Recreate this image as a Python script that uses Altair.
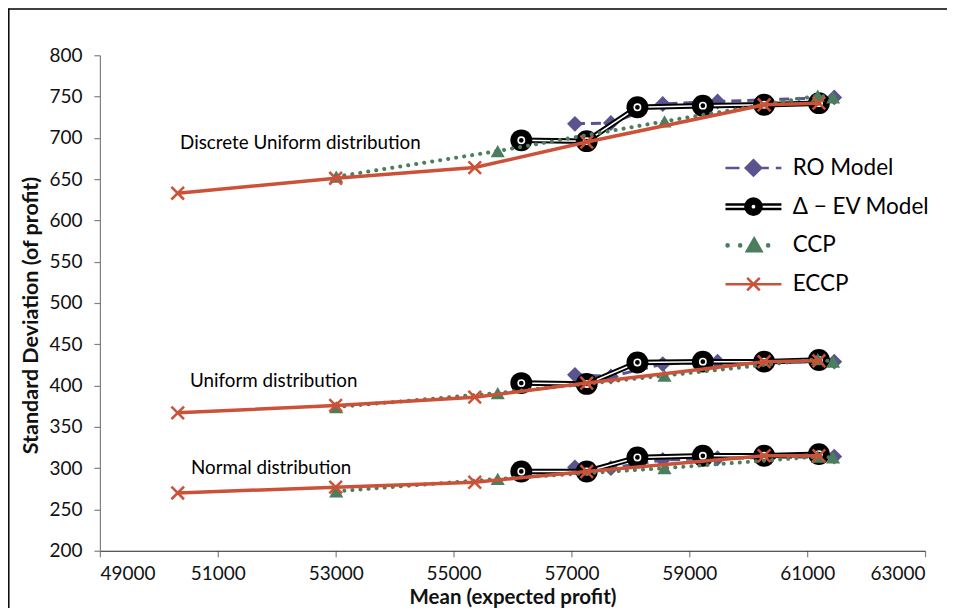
import altair as alt
import pandas as pd

# ---------------- data ----------------
dist_names = ["Discrete Uniform", "Uniform", "Normal"]
series_names = ["RO Model", "Δ − EV Model", "CCP", "ECCP"]

ro_x = [57060, 57670, 58550, 59480, 61460]
ro_y_du = [717, 718, 741, 744, 749]
ro_y_u = [413, 411, 426, 429, 429]
ro_y_n = [301, 300, 310, 312, 314]

ev_x = [56150, 57260, 58120, 59230, 60270, 61200]
ev_y_du = [697, 696, 737, 739, 740, 742]
ev_y_u = [403, 402, 428, 429, 429, 431]
ev_y_n = [296, 296, 313, 315, 315, 317]

ccp_x = [53010, 55750, 58580, 61180, 61440]
ccp_y_du = [653, 684, 720, 751, 749]
ccp_y_u = [374, 391, 412, 432, 429]
ccp_y_n = [272, 287, 300, 314, 313]

eccp_x = [50320, 53000, 55360, 57260, 60270, 61200]
eccp_y_du = [633, 651, 664, 695, 740, 742]
eccp_y_u = [367, 376, 386, 403, 429, 430]
eccp_y_n = [270, 277, 283, 296, 315, 315]

label_texts = ["Discrete Uniform distribution", "Uniform distribution", "Normal distribution"]
label_x = [50360, 50530, 50545]
label_y = [694, 406, 300]

x_ticks = [49000, 51000, 53000, 55000, 57000, 59000, 61000, 63000]
y_ticks = [200, 250, 300, 350, 400, 450, 500, 550, 600, 650, 700, 750, 800]

# ---------------- build table ----------------
rows = []
def add(series, xs, ys_list):
    for dist, ys in zip(dist_names, ys_list):
        for xv, yv in zip(xs, ys):
            rows.append({"series": series, "dist": dist, "x": xv, "y": yv})

add("RO Model", ro_x, [ro_y_du, ro_y_u, ro_y_n])
add("Δ − EV Model", ev_x, [ev_y_du, ev_y_u, ev_y_n])
add("CCP", ccp_x, [ccp_y_du, ccp_y_u, ccp_y_n])
add("ECCP", eccp_x, [eccp_y_du, eccp_y_u, eccp_y_n])
df = pd.DataFrame(rows)
df_text = pd.DataFrame({"label": label_texts, "x": label_x, "y": label_y})

PURPLE = "#59538f"
GREEN = "#4b7e5c"
RED = "#cb5238"
BLACK = "#000000"

W, H = 826, 496
FONT = "Lato"

X = alt.X("x:Q",
          scale=alt.Scale(domain=[49000, 63000], nice=False, zero=False),
          axis=alt.Axis(values=x_ticks, format="d", title="Mean (expected profit)",
                        domainColor="#222222", tickColor="#808080", tickSize=6,
                        labelPadding=8, titlePadding=4, titleFontSize=20.5))
Y = alt.Y("y:Q",
          scale=alt.Scale(domain=[200, 800], nice=False, zero=False),
          axis=alt.Axis(values=y_ticks, title="Standard Deviation  (of profit)",
                        domainColor="#808080", tickColor="#808080", tickSize=6,
                        labelPadding=12, titlePadding=6, titleY=260))

base = alt.Chart(df)

def sel(name):
    return base.transform_filter(alt.datum.series == name)

# chart-area frame (left and top edges, decoration)
frame_src = alt.Chart(pd.DataFrame({"k": [0]}))
frame_left = frame_src.mark_rule(color="black", strokeWidth=1.5).encode(
    x=alt.value(-91.2), y=alt.value(-46.5), y2=alt.value(H + 120))
frame_top = frame_src.mark_rule(color="black", strokeWidth=1.5).encode(
    x=alt.value(-92), x2=alt.value(W + 120), y=alt.value(-46.2))

ro_line = sel("RO Model").mark_line(color=PURPLE, strokeWidth=3, strokeDash=[10, 6]).encode(
    x=X, y=Y, detail="dist:N")
ro_pts = sel("RO Model").mark_point(shape="diamond", filled=True, color=PURPLE, size=250, opacity=1).encode(
    x=X, y=Y)

ev_line_black = sel("Δ − EV Model").mark_line(color=BLACK, strokeWidth=5.5).encode(x=X, y=Y, detail="dist:N")
ev_line_white = sel("Δ − EV Model").mark_line(color="white", strokeWidth=1.5).encode(x=X, y=Y, detail="dist:N")
ev_pts = sel("Δ − EV Model").mark_point(shape="circle", filled=True, color=BLACK, size=480, opacity=1).encode(
    x=X, y=Y)
ev_inner = sel("Δ − EV Model").mark_point(shape="circle", filled=False, stroke="white", strokeWidth=1.6,
                                          size=40, opacity=1).encode(x=X, y=Y)

ccp_line = sel("CCP").mark_line(color=GREEN, strokeWidth=4, strokeDash=[0.1, 8], strokeCap="round").encode(
    x=X, y=Y, detail="dist:N")
ccp_pts = sel("CCP").mark_point(shape="triangle-up", filled=True, color=GREEN, size=200, opacity=1).encode(
    x=X, y=Y)

eccp_line = sel("ECCP").mark_line(color=RED, strokeWidth=3.5).encode(x=X, y=Y, detail="dist:N")
eccp_pts = sel("ECCP").mark_point(shape="M-1,-1L1,1M-1,1L1,-1", filled=False, stroke=RED, strokeWidth=2.5,
                                  size=160, opacity=1).encode(x=X, y=Y)

texts = alt.Chart(df_text).mark_text(align="left", baseline="middle", font=FONT, fontSize=18.8,
                                     color="black").encode(x=X, y=Y, text="label:N")

# legend symbols: line segment + marker drawn as one custom path (unit = 7px)
legend_paths = [
    "M-4,0H-2M1.2,0H2.2M3.2,0H4M0,-1.1L1.1,0L0,1.1L-1.1,0Z",
    "M-4,-0.32H-1M-4,0.32H-1M1,-0.32H4M1,0.32H4"
    "M-1.15,0A1.15,1.15 0 1,1 1.15,0A1.15,1.15 0 1,1 -1.15,0Z"
    "M-0.45,0A0.45,0.45 0 1,0 0.45,0A0.45,0.45 0 1,0 -0.45,0Z",
    "M-3.85,0A0.15,0.15 0 1,1 -3.55,0A0.15,0.15 0 1,1 -3.85,0Z"
    "M-2.05,0A0.15,0.15 0 1,1 -1.75,0A0.15,0.15 0 1,1 -2.05,0Z"
    "M1.95,0A0.15,0.15 0 1,1 2.25,0A0.15,0.15 0 1,1 1.95,0Z"
    "M0.1,-1L1.15,0.85L-0.95,0.85Z",
    "M-4,0H4M-0.9,-0.9L0.9,0.9M-0.9,0.9L0.9,-0.9",
]
series_colors = [PURPLE, BLACK, GREEN, RED]

def leg():
    return alt.Legend(orient="none", legendX=643, legendY=101.5, title=None,
                      labelFont=FONT, labelFontSize=22.5, labelColor="black",
                      symbolSize=196, symbolStrokeWidth=2.5, labelOffset=28,
                      rowPadding=11.8, gridAlign="all", symbolOpacity=1, padding=0)

legend_layer = base.mark_point(filled=True, opacity=1).encode(
    x=X, y=Y,
    shape=alt.Shape("series:N", scale=alt.Scale(domain=series_names, range=legend_paths), legend=leg()),
    fill=alt.Fill("series:N", scale=alt.Scale(domain=series_names, range=series_colors), legend=leg()),
    stroke=alt.Stroke("series:N", scale=alt.Scale(domain=series_names, range=series_colors), legend=leg()),
).transform_filter("false")

chart = alt.layer(
    frame_left, frame_top,
    ro_line, ro_pts,
    ev_line_black, ev_line_white, ev_pts, ev_inner,
    ccp_line, ccp_pts,
    eccp_line, eccp_pts,
    texts,
    legend_layer,
).properties(
    width=W, height=H,
    padding={"left": 92, "top": 47, "right": 22, "bottom": 57},
    autosize=alt.AutoSizeParams(type="none"),
).configure_view(stroke=None).configure_axis(
    grid=False, labelFont=FONT, labelFontSize=19, labelColor="#111111",
    titleFont=FONT, titleFontSize=21.5, titleFontWeight="bold", titleColor="#111111",
    domainWidth=1.2, tickWidth=1.2,
)

chart.save("out.html", embed_options={"renderer": "svg", "actions": False})
